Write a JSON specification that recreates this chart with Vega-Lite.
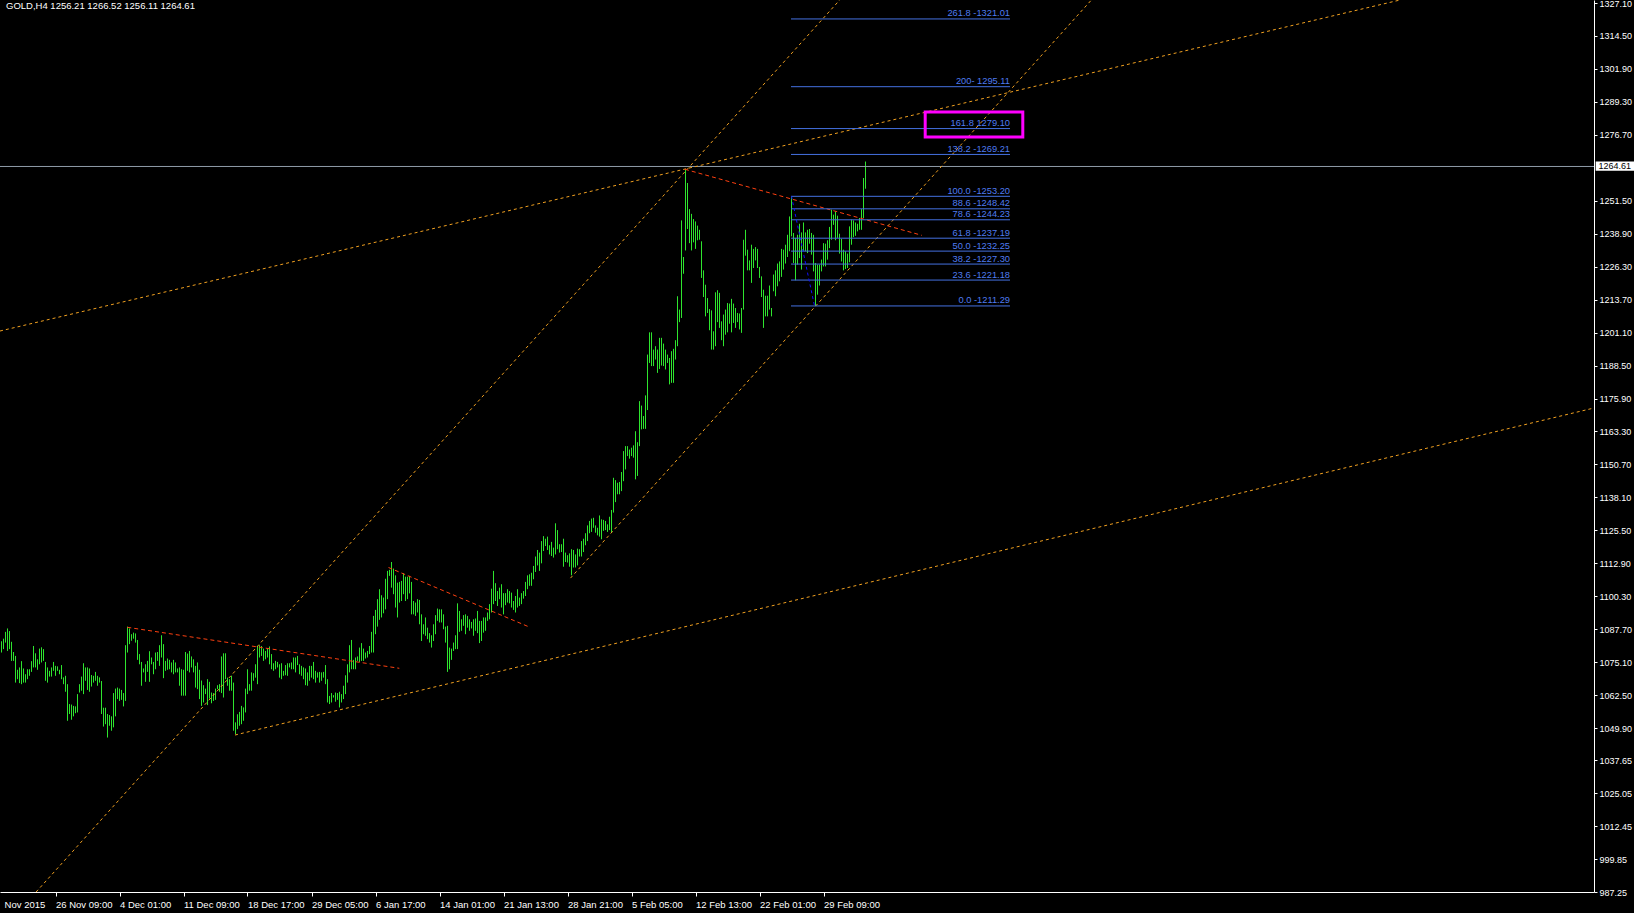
{
"$schema":"https://vega.github.io/schema/vega-lite/v6.json",
"width":1594,"height":892,
"autosize":{"type":"none"},
"padding":{"left":0,"top":0,"right":40,"bottom":21},
"background":"#000000",
"config":{"view":{"stroke":null}},
"datasets":{
"bars":[
{"i":0,"h":1083.1,"l":1078.8},{"i":1,"h":1084.1,"l":1080.1},{"i":2,"h":1086.7,"l":1082.6},{"i":3,"h":1088.0,"l":1079.4},{"i":4,"h":1087.0,"l":1080.1},{"i":5,"h":1082.9,"l":1075.6},{"i":6,"h":1079.0,"l":1075.6},{"i":7,"h":1077.5,"l":1067.3},{"i":8,"h":1072.2,"l":1068.6},{"i":9,"h":1073.1,"l":1067.1},
{"i":10,"h":1075.5,"l":1066.7},{"i":11,"h":1072.7,"l":1067.3},{"i":12,"h":1070.5,"l":1067.3},{"i":13,"h":1072.4,"l":1068.6},{"i":14,"h":1072.4,"l":1069.9},{"i":15,"h":1075.5,"l":1071.4},{"i":16,"h":1081.3,"l":1073.1},{"i":17,"h":1078.5,"l":1073.1},{"i":18,"h":1076.2,"l":1072.2},{"i":19,"h":1080.3,"l":1074.3},
{"i":20,"h":1080.8,"l":1075.0},{"i":21,"h":1080.1,"l":1075.6},{"i":22,"h":1075.2,"l":1068.0},{"i":23,"h":1073.1,"l":1067.3},{"i":24,"h":1071.8,"l":1069.6},{"i":25,"h":1073.1,"l":1069.6},{"i":26,"h":1075.2,"l":1071.8},{"i":27,"h":1073.7,"l":1069.9},{"i":28,"h":1073.5,"l":1071.8},{"i":29,"h":1072.2,"l":1070.5},
{"i":30,"h":1074.0,"l":1068.6},{"i":31,"h":1069.3,"l":1066.7},{"i":32,"h":1069.9,"l":1063.8},{"i":33,"h":1066.7,"l":1052.7},{"i":34,"h":1059.1,"l":1055.3},{"i":35,"h":1058.9,"l":1053.1},{"i":36,"h":1058.4,"l":1054.4},{"i":37,"h":1058.2,"l":1055.6},{"i":38,"h":1062.9,"l":1055.9},{"i":39,"h":1066.7,"l":1063.5},
{"i":40,"h":1069.6,"l":1064.2},{"i":41,"h":1074.7,"l":1062.9},{"i":42,"h":1073.1,"l":1068.0},{"i":43,"h":1073.1,"l":1064.5},{"i":44,"h":1072.7,"l":1063.8},{"i":45,"h":1070.2,"l":1065.8},{"i":46,"h":1069.9,"l":1067.3},{"i":47,"h":1071.4,"l":1068.0},{"i":48,"h":1069.9,"l":1066.1},{"i":49,"h":1069.3,"l":1067.3},
{"i":50,"h":1067.9,"l":1055.3},{"i":51,"h":1057.7,"l":1050.5},{"i":52,"h":1057.7,"l":1051.4},{"i":53,"h":1055.3,"l":1046.3},{"i":54,"h":1054.9,"l":1050.8},{"i":55,"h":1054.4,"l":1048.9},{"i":56,"h":1063.3,"l":1050.2},{"i":57,"h":1065.0,"l":1054.4},{"i":58,"h":1065.4,"l":1061.0},{"i":59,"h":1065.0,"l":1060.3},
{"i":60,"h":1064.5,"l":1060.7},{"i":61,"h":1063.3,"l":1058.2},{"i":62,"h":1081.6,"l":1060.3},{"i":63,"h":1088.7,"l":1078.8},{"i":64,"h":1088.0,"l":1082.0},{"i":65,"h":1085.8,"l":1083.3},{"i":66,"h":1086.4,"l":1084.1},{"i":67,"h":1086.1,"l":1082.6},{"i":68,"h":1083.6,"l":1076.0},{"i":69,"h":1078.2,"l":1074.3},
{"i":70,"h":1075.2,"l":1066.1},{"i":71,"h":1072.7,"l":1071.2},{"i":72,"h":1074.3,"l":1067.6},{"i":73,"h":1075.6,"l":1071.4},{"i":74,"h":1079.3,"l":1067.6},{"i":75,"h":1076.9,"l":1074.3},{"i":76,"h":1075.2,"l":1070.5},{"i":77,"h":1078.8,"l":1072.4},{"i":78,"h":1079.0,"l":1075.6},{"i":79,"h":1081.6,"l":1073.7},
{"i":80,"h":1085.4,"l":1076.9},{"i":81,"h":1082.0,"l":1069.0},{"i":82,"h":1075.6,"l":1071.8},{"i":83,"h":1076.5,"l":1072.2},{"i":84,"h":1076.0,"l":1072.4},{"i":85,"h":1075.0,"l":1071.2},{"i":86,"h":1076.0,"l":1070.5},{"i":87,"h":1075.0,"l":1071.2},{"i":88,"h":1072.7,"l":1071.2},{"i":89,"h":1073.1,"l":1066.1},
{"i":90,"h":1072.4,"l":1062.3},{"i":91,"h":1072.2,"l":1062.3},{"i":92,"h":1079.0,"l":1062.3},{"i":93,"h":1078.4,"l":1071.8},{"i":94,"h":1079.4,"l":1071.2},{"i":95,"h":1077.3,"l":1073.1},{"i":96,"h":1076.2,"l":1071.2},{"i":97,"h":1073.7,"l":1065.4},{"i":98,"h":1075.0,"l":1064.8},{"i":99,"h":1072.2,"l":1061.0},
{"i":100,"h":1068.1,"l":1058.4},{"i":101,"h":1066.3,"l":1059.7},{"i":102,"h":1065.0,"l":1062.9},{"i":103,"h":1068.6,"l":1058.7},{"i":104,"h":1067.6,"l":1061.2},{"i":105,"h":1063.5,"l":1059.4},{"i":106,"h":1063.3,"l":1060.3},{"i":107,"h":1065.0,"l":1060.7},{"i":108,"h":1066.3,"l":1064.8},{"i":109,"h":1066.7,"l":1063.8},
{"i":110,"h":1077.3,"l":1063.3},{"i":111,"h":1078.5,"l":1061.6},{"i":112,"h":1078.5,"l":1068.6},{"i":113,"h":1069.2,"l":1066.1},{"i":114,"h":1068.6,"l":1064.2},{"i":115,"h":1069.9,"l":1064.2},{"i":116,"h":1067.3,"l":1048.9},{"i":117,"h":1052.1,"l":1047.6},{"i":118,"h":1055.2,"l":1049.5},{"i":119,"h":1056.1,"l":1050.8},
{"i":120,"h":1058.4,"l":1051.4},{"i":121,"h":1057.8,"l":1052.7},{"i":122,"h":1065.0,"l":1055.9},{"i":123,"h":1072.4,"l":1062.9},{"i":124,"h":1066.7,"l":1064.2},{"i":125,"h":1071.2,"l":1064.2},{"i":126,"h":1070.9,"l":1068.0},{"i":127,"h":1074.3,"l":1069.2},{"i":128,"h":1081.3,"l":1066.7},{"i":129,"h":1081.6,"l":1076.9},
{"i":130,"h":1081.3,"l":1077.5},{"i":131,"h":1080.3,"l":1075.6},{"i":132,"h":1079.4,"l":1076.2},{"i":133,"h":1080.3,"l":1076.9},{"i":134,"h":1081.1,"l":1074.3},{"i":135,"h":1078.2,"l":1072.4},{"i":136,"h":1074.7,"l":1071.8},{"i":137,"h":1075.6,"l":1072.4},{"i":138,"h":1075.2,"l":1073.1},{"i":139,"h":1074.3,"l":1069.2},
{"i":140,"h":1074.7,"l":1068.6},{"i":141,"h":1071.8,"l":1069.9},{"i":142,"h":1074.0,"l":1070.1},{"i":143,"h":1074.7,"l":1069.9},{"i":144,"h":1074.7,"l":1073.1},{"i":145,"h":1075.0,"l":1072.4},{"i":146,"h":1076.9,"l":1072.4},{"i":147,"h":1076.9,"l":1071.2},{"i":148,"h":1077.5,"l":1074.0},{"i":149,"h":1074.3,"l":1070.5},
{"i":150,"h":1073.7,"l":1069.9},{"i":151,"h":1073.1,"l":1068.6},{"i":152,"h":1072.7,"l":1066.3},{"i":153,"h":1071.2,"l":1066.1},{"i":154,"h":1073.7,"l":1068.0},{"i":155,"h":1073.7,"l":1069.2},{"i":156,"h":1075.2,"l":1068.6},{"i":157,"h":1071.8,"l":1067.3},{"i":158,"h":1071.2,"l":1069.2},{"i":159,"h":1071.4,"l":1067.3},
{"i":160,"h":1071.2,"l":1068.0},{"i":161,"h":1071.4,"l":1069.2},{"i":162,"h":1074.0,"l":1066.7},{"i":163,"h":1068.6,"l":1059.7},{"i":164,"h":1062.2,"l":1059.1},{"i":165,"h":1063.3,"l":1059.7},{"i":166,"h":1062.5,"l":1061.6},{"i":167,"h":1063.5,"l":1060.0},{"i":168,"h":1063.3,"l":1060.7},{"i":169,"h":1063.8,"l":1057.8},
{"i":170,"h":1062.9,"l":1059.7},{"i":171,"h":1066.1,"l":1061.0},{"i":172,"h":1070.1,"l":1062.9},{"i":173,"h":1074.3,"l":1067.3},{"i":174,"h":1081.6,"l":1071.2},{"i":175,"h":1083.6,"l":1072.4},{"i":176,"h":1076.0,"l":1072.4},{"i":177,"h":1076.9,"l":1072.4},{"i":178,"h":1077.3,"l":1075.6},{"i":179,"h":1080.7,"l":1075.2},
{"i":180,"h":1082.4,"l":1075.6},{"i":181,"h":1080.3,"l":1075.6},{"i":182,"h":1078.8,"l":1076.5},{"i":183,"h":1079.4,"l":1076.9},{"i":184,"h":1081.3,"l":1078.2},{"i":185,"h":1086.7,"l":1078.8},{"i":186,"h":1092.8,"l":1078.8},{"i":187,"h":1095.1,"l":1085.8},{"i":188,"h":1099.2,"l":1088.7},{"i":189,"h":1103.0,"l":1091.3},
{"i":190,"h":1100.7,"l":1092.2},{"i":191,"h":1099.8,"l":1093.8},{"i":192,"h":1107.0,"l":1095.3},{"i":193,"h":1110.0,"l":1099.2},{"i":194,"h":1110.4,"l":1108.1},{"i":195,"h":1113.4,"l":1103.6},{"i":196,"h":1110.9,"l":1101.1},{"i":197,"h":1108.3,"l":1096.0},{"i":198,"h":1105.5,"l":1092.2},{"i":199,"h":1105.8,"l":1097.9},
{"i":200,"h":1106.2,"l":1098.5},{"i":201,"h":1109.1,"l":1101.1},{"i":202,"h":1107.8,"l":1098.5},{"i":203,"h":1107.8,"l":1099.2},{"i":204,"h":1108.1,"l":1101.4},{"i":205,"h":1105.8,"l":1093.4},{"i":206,"h":1098.5,"l":1093.4},{"i":207,"h":1097.9,"l":1092.8},{"i":208,"h":1099.2,"l":1094.1},{"i":209,"h":1098.9,"l":1089.6},
{"i":210,"h":1093.4,"l":1083.2},{"i":211,"h":1089.6,"l":1085.8},{"i":212,"h":1092.2,"l":1085.2},{"i":213,"h":1088.3,"l":1083.9},{"i":214,"h":1086.2,"l":1082.6},{"i":215,"h":1085.4,"l":1080.7},{"i":216,"h":1089.6,"l":1083.2},{"i":217,"h":1093.1,"l":1085.8},{"i":218,"h":1095.6,"l":1090.9},{"i":219,"h":1095.3,"l":1090.3},
{"i":220,"h":1095.3,"l":1090.3},{"i":221,"h":1093.4,"l":1087.7},{"i":222,"h":1088.7,"l":1082.6},{"i":223,"h":1089.0,"l":1071.4},{"i":224,"h":1080.7,"l":1072.4},{"i":225,"h":1080.3,"l":1076.0},{"i":226,"h":1082.6,"l":1079.4},{"i":227,"h":1085.4,"l":1080.1},{"i":228,"h":1097.6,"l":1080.1},{"i":229,"h":1094.7,"l":1086.7},
{"i":230,"h":1091.5,"l":1087.1},{"i":231,"h":1093.1,"l":1089.0},{"i":232,"h":1093.4,"l":1085.8},{"i":233,"h":1092.8,"l":1088.3},{"i":234,"h":1091.5,"l":1087.1},{"i":235,"h":1090.5,"l":1088.0},{"i":236,"h":1091.5,"l":1085.2},{"i":237,"h":1091.8,"l":1087.1},{"i":238,"h":1094.7,"l":1086.2},{"i":239,"h":1090.9,"l":1082.4},
{"i":240,"h":1090.9,"l":1083.2},{"i":241,"h":1092.2,"l":1086.4},{"i":242,"h":1092.2,"l":1087.1},{"i":243,"h":1094.1,"l":1090.9},{"i":244,"h":1097.3,"l":1091.5},{"i":245,"h":1103.2,"l":1094.1},{"i":246,"h":1110.0,"l":1097.3},{"i":247,"h":1105.3,"l":1098.5},{"i":248,"h":1102.3,"l":1096.6},{"i":249,"h":1103.6,"l":1099.2},
{"i":250,"h":1104.9,"l":1096.0},{"i":251,"h":1101.5,"l":1093.4},{"i":252,"h":1101.5,"l":1096.9},{"i":253,"h":1103.0,"l":1097.9},{"i":254,"h":1102.3,"l":1097.6},{"i":255,"h":1101.7,"l":1096.0},{"i":256,"h":1098.5,"l":1095.1},{"i":257,"h":1100.4,"l":1094.1},{"i":258,"h":1103.0,"l":1096.0},{"i":259,"h":1099.8,"l":1096.6},
{"i":260,"h":1101.5,"l":1097.3},{"i":261,"h":1102.3,"l":1099.4},{"i":262,"h":1105.8,"l":1100.4},{"i":263,"h":1108.3,"l":1103.0},{"i":264,"h":1108.7,"l":1104.3},{"i":265,"h":1109.3,"l":1104.3},{"i":266,"h":1111.9,"l":1106.8},{"i":267,"h":1115.5,"l":1109.6},{"i":268,"h":1118.0,"l":1112.1},{"i":269,"h":1117.0,"l":1110.0},
{"i":270,"h":1121.4,"l":1112.9},{"i":271,"h":1123.3,"l":1117.6},{"i":272,"h":1122.3,"l":1119.5},{"i":273,"h":1123.1,"l":1118.0},{"i":274,"h":1119.8,"l":1116.3},{"i":275,"h":1121.1,"l":1115.7},{"i":276,"h":1118.9,"l":1115.1},{"i":277,"h":1128.2,"l":1116.3},{"i":278,"h":1125.6,"l":1118.3},{"i":279,"h":1120.2,"l":1117.0},
{"i":280,"h":1120.2,"l":1117.2},{"i":281,"h":1122.3,"l":1111.6},{"i":282,"h":1117.0,"l":1113.4},{"i":283,"h":1116.0,"l":1113.2},{"i":284,"h":1116.7,"l":1111.6},{"i":285,"h":1118.3,"l":1108.3},{"i":286,"h":1118.0,"l":1111.3},{"i":287,"h":1116.3,"l":1111.3},{"i":288,"h":1118.5,"l":1112.1},{"i":289,"h":1118.3,"l":1115.5},
{"i":290,"h":1121.4,"l":1115.5},{"i":291,"h":1122.3,"l":1117.2},{"i":292,"h":1124.4,"l":1119.8},{"i":293,"h":1127.4,"l":1121.4},{"i":294,"h":1129.1,"l":1124.4},{"i":295,"h":1130.0,"l":1124.9},{"i":296,"h":1130.3,"l":1126.5},{"i":297,"h":1127.4,"l":1124.6},{"i":298,"h":1126.5,"l":1123.6},{"i":299,"h":1131.2,"l":1123.1},
{"i":300,"h":1129.7,"l":1122.1},{"i":301,"h":1129.5,"l":1125.3},{"i":302,"h":1129.1,"l":1125.6},{"i":303,"h":1127.8,"l":1124.9},{"i":304,"h":1130.7,"l":1125.6},{"i":305,"h":1133.3,"l":1124.6},{"i":306,"h":1145.6,"l":1132.3},{"i":307,"h":1144.7,"l":1136.3},{"i":308,"h":1143.7,"l":1139.3},{"i":309,"h":1144.0,"l":1139.3},
{"i":310,"h":1147.8,"l":1140.5},{"i":311,"h":1155.8,"l":1144.3},{"i":312,"h":1157.7,"l":1148.8},{"i":313,"h":1157.7,"l":1153.9},{"i":314,"h":1156.4,"l":1152.9},{"i":315,"h":1157.1,"l":1153.9},{"i":316,"h":1158.0,"l":1153.3},{"i":317,"h":1163.4,"l":1145.0},{"i":318,"h":1159.2,"l":1146.3},{"i":319,"h":1174.9,"l":1157.7},
{"i":320,"h":1173.2,"l":1164.1},{"i":321,"h":1169.2,"l":1164.3},{"i":322,"h":1177.1,"l":1164.3},{"i":323,"h":1192.7,"l":1171.5},{"i":324,"h":1201.2,"l":1189.5},{"i":325,"h":1201.2,"l":1188.3},{"i":326,"h":1194.6,"l":1188.3},{"i":327,"h":1195.9,"l":1190.8},{"i":328,"h":1194.6,"l":1185.7},{"i":329,"h":1199.1,"l":1187.2},
{"i":330,"h":1199.1,"l":1188.5},{"i":331,"h":1196.9,"l":1188.3},{"i":332,"h":1194.6,"l":1187.0},{"i":333,"h":1192.7,"l":1189.5},{"i":334,"h":1191.4,"l":1181.3},{"i":335,"h":1194.0,"l":1181.9},{"i":336,"h":1194.9,"l":1181.9},{"i":337,"h":1198.2,"l":1190.8},{"i":338,"h":1215.0,"l":1195.9},{"i":339,"h":1209.9,"l":1205.1},
{"i":340,"h":1244.0,"l":1206.7},{"i":341,"h":1230.0,"l":1223.6},{"i":342,"h":1263.3,"l":1232.5},{"i":343,"h":1258.3,"l":1240.7},{"i":344,"h":1248.3,"l":1235.3},{"i":345,"h":1246.5,"l":1232.5},{"i":346,"h":1244.5,"l":1235.6},{"i":347,"h":1243.6,"l":1233.1},{"i":348,"h":1242.0,"l":1236.4},{"i":349,"h":1240.4,"l":1236.6},
{"i":350,"h":1236.0,"l":1222.0},{"i":351,"h":1224.9,"l":1214.7},{"i":352,"h":1219.4,"l":1207.3},{"i":353,"h":1214.3,"l":1208.6},{"i":354,"h":1210.1,"l":1202.0},{"i":355,"h":1209.6,"l":1194.6},{"i":356,"h":1201.6,"l":1194.6},{"i":357,"h":1216.5,"l":1195.9},{"i":358,"h":1217.3,"l":1205.1},{"i":359,"h":1216.3,"l":1202.9},
{"i":360,"h":1205.4,"l":1198.2},{"i":361,"h":1208.0,"l":1195.9},{"i":362,"h":1209.9,"l":1200.3},{"i":363,"h":1212.4,"l":1201.2},{"i":364,"h":1212.2,"l":1204.5},{"i":365,"h":1214.0,"l":1201.2},{"i":366,"h":1212.2,"l":1204.8},{"i":367,"h":1210.5,"l":1202.9},{"i":368,"h":1208.6,"l":1205.1},{"i":369,"h":1208.4,"l":1202.3},
{"i":370,"h":1210.5,"l":1201.0},{"i":371,"h":1236.6,"l":1209.9},{"i":372,"h":1240.4,"l":1230.5},{"i":373,"h":1232.8,"l":1224.9},{"i":374,"h":1228.7,"l":1224.9},{"i":375,"h":1234.7,"l":1220.1},{"i":376,"h":1233.1,"l":1225.8},{"i":377,"h":1233.8,"l":1228.7},{"i":378,"h":1233.1,"l":1225.8},{"i":379,"h":1226.2,"l":1222.0},
{"i":380,"h":1222.6,"l":1214.7},{"i":381,"h":1217.5,"l":1202.9},{"i":382,"h":1215.2,"l":1207.3},{"i":383,"h":1215.2,"l":1207.3},{"i":384,"h":1219.1,"l":1209.9},{"i":385,"h":1210.5,"l":1207.3},{"i":386,"h":1223.3,"l":1216.9},{"i":387,"h":1224.9,"l":1215.0},{"i":388,"h":1227.5,"l":1218.8},{"i":389,"h":1228.3,"l":1220.7},
{"i":390,"h":1233.1,"l":1222.4},{"i":391,"h":1232.8,"l":1225.2},{"i":392,"h":1234.7,"l":1227.5},{"i":393,"h":1238.5,"l":1230.0},{"i":394,"h":1245.5,"l":1232.2},{"i":395,"h":1253.2,"l":1237.9},{"i":396,"h":1239.2,"l":1227.7},{"i":397,"h":1237.3,"l":1221.1},{"i":398,"h":1238.5,"l":1227.1},{"i":399,"h":1242.7,"l":1229.6},
{"i":400,"h":1239.4,"l":1225.2},{"i":401,"h":1243.2,"l":1232.2},{"i":402,"h":1239.4,"l":1232.2},{"i":403,"h":1240.4,"l":1231.5},{"i":404,"h":1240.7,"l":1235.1},{"i":405,"h":1239.2,"l":1230.9},{"i":406,"h":1238.5,"l":1224.5},{"i":407,"h":1227.7,"l":1211.3},{"i":408,"h":1227.1,"l":1215.6},{"i":409,"h":1227.1,"l":1219.1},
{"i":410,"h":1229.0,"l":1224.5},{"i":411,"h":1235.3,"l":1226.4},{"i":412,"h":1235.1,"l":1226.4},{"i":413,"h":1236.4,"l":1229.0},{"i":414,"h":1241.5,"l":1233.4},{"i":415,"h":1248.1,"l":1236.6},{"i":416,"h":1246.2,"l":1242.3},{"i":417,"h":1247.4,"l":1236.4},{"i":418,"h":1245.8,"l":1237.3},{"i":419,"h":1238.9,"l":1231.3},
{"i":420,"h":1236.9,"l":1228.3},{"i":421,"h":1232.8,"l":1224.9},{"i":422,"h":1232.2,"l":1225.4},{"i":423,"h":1231.3,"l":1225.8},{"i":424,"h":1241.7,"l":1228.0},{"i":425,"h":1244.3,"l":1234.7},{"i":426,"h":1244.0,"l":1237.6},{"i":427,"h":1243.2,"l":1238.1},{"i":428,"h":1242.7,"l":1239.8},{"i":429,"h":1244.9,"l":1240.4},
{"i":430,"h":1248.3,"l":1240.4},{"i":431,"h":1260.2,"l":1244.9},{"i":432,"h":1266.5,"l":1256.1}
],
"trend":[
{"line":"A","i":17.3,"p":987.25},{"line":"A","i":419.1,"p":1328.25},
{"line":"B","i":284.5,"p":1107.25},{"line":"B","i":544.95,"p":1328.25},
{"line":"C","i":-0.75,"p":1201.71},{"line":"C","i":699.25,"p":1328.25},
{"line":"D","i":116.75,"p":1047.26},{"line":"D","i":796.25,"p":1172.28}
],
"red":[
{"line":"a","i":62.9,"p":1088.44},{"line":"a","i":198.9,"p":1072.77},
{"line":"b","i":193.5,"p":1111.3},{"line":"b","i":264.25,"p":1088.44},
{"line":"c","i":341.75,"p":1263.53},{"line":"c","i":460.1,"p":1238.3}
],
"fib":[
{"p":1321.01,"label":"261.8 -1321.01"},{"p":1295.11,"label":"200- 1295.11"},{"p":1279.10,"label":"161.8 1279.10"},{"p":1269.21,"label":"138.2  -1269.21"},
{"p":1253.20,"label":"100.0 -1253.20"},{"p":1248.42,"label":"88.6 -1248.42"},{"p":1244.23,"label":"78.6 -1244.23"},{"p":1237.19,"label":"61.8 -1237.19"},
{"p":1232.25,"label":"50.0 -1232.25"},{"p":1227.30,"label":"38.2 -1227.30"},{"p":1221.18,"label":"23.6 -1221.18"},{"p":1211.29,"label":"0.0 -1211.29"}
],
"fibdiag":[{"i":395,"p":1253.2},{"i":406.5,"p":1211.29}],
"one":[{}]
},
"layer":[
{"data":{"name":"bars"},
 "mark":{"type":"rule","color":"#2ee52e","strokeWidth":1},
 "encoding":{
  "x":{"field":"i","type":"quantitative","scale":{"domain":[-0.75,796.25],"nice":false,"zero":false},
   "axis":{"orient":"bottom","values":[1.3,27,59,91,123,155,187,219,251,283,315,347,379,411],"tickCount":40,
    "labelExpr":"datum.value < 5 ? 'Nov 2015' : ['26 Nov 09:00','4 Dec 01:00','11 Dec 09:00','18 Dec 17:00','29 Dec 05:00','6 Jan 17:00','14 Jan 01:00','21 Jan 13:00','28 Jan 21:00','5 Feb 05:00','12 Feb 13:00','22 Feb 01:00','29 Feb 09:00'][round((datum.value-27)/32)]",
    "labelAlign":"left","labelBaseline":"top","labelPadding":3,"tickSize":4,
    "tickColor":{"condition":{"test":"datum.value < 5","value":"transparent"},"value":"#ffffff"},
    "domainColor":"#ffffff","labelColor":"#ffffff","labelFont":"Liberation Sans","labelFontSize":9.5,
    "labelFlush":false,"labelOverlap":false,"labelBound":false,"grid":false,"title":null}},
  "y":{"field":"l","type":"quantitative","scale":{"domain":[987.25,1328.25],"nice":false,"zero":false},
   "axis":{"orient":"right","values":[987.25,999.85,1012.45,1025.05,1037.65,1049.90,1062.50,1075.10,1087.70,1100.30,1112.90,1125.50,1138.10,1150.70,1163.30,1175.90,1188.50,1201.10,1213.70,1226.30,1238.90,1251.50,1276.70,1289.30,1301.90,1314.50,1327.10],"tickCount":60,
    "format":".2f","tickSize":3,"labelPadding":2,"tickColor":"#ffffff","domainColor":"#ffffff","labelColor":"#ffffff",
    "labelFont":"Liberation Sans","labelFontSize":9,"labelFlush":false,"labelOverlap":false,"labelBound":false,"grid":false,"title":null}},
  "y2":{"field":"h"}
 }},
{"data":{"name":"one"},
 "mark":{"type":"rule","color":"#8f9ca8","strokeWidth":1},
 "encoding":{"y":{"datum":1264.61,"type":"quantitative"}}},
{"data":{"name":"trend"},
 "mark":{"type":"line","color":"#f0a020","strokeWidth":1,"strokeDash":[3,3],"clip":true},
 "encoding":{"x":{"field":"i","type":"quantitative"},"y":{"field":"p","type":"quantitative"},"detail":{"field":"line"}}},
{"data":{"name":"red"},
 "mark":{"type":"line","color":"#ff4010","strokeWidth":1,"strokeDash":[4,3],"clip":true},
 "encoding":{"x":{"field":"i","type":"quantitative"},"y":{"field":"p","type":"quantitative"},"detail":{"field":"line"}}},
{"data":{"name":"fib"},
 "mark":{"type":"rule","color":"#4470e0","strokeWidth":1},
 "encoding":{"x":{"datum":394.75,"type":"quantitative"},"x2":{"datum":504.25},"y":{"field":"p","type":"quantitative"}}},
{"data":{"name":"fib"},
 "mark":{"type":"text","color":"#4f7cf0","align":"right","baseline":"alphabetic","dy":-2.5,"font":"Liberation Sans","fontSize":9.3},
 "encoding":{"x":{"datum":504.25,"type":"quantitative"},"y":{"field":"p","type":"quantitative"},"text":{"field":"label"}}},
{"data":{"name":"fibdiag"},
 "mark":{"type":"line","color":"#1010ff","strokeWidth":1,"strokeDash":[3,3]},
 "encoding":{"x":{"field":"i","type":"quantitative"},"y":{"field":"p","type":"quantitative"}}},
{"data":{"name":"one"},
 "mark":{"type":"rect","fill":"transparent","stroke":"#ff00ff","strokeWidth":3},
 "encoding":{"x":{"datum":461.85,"type":"quantitative"},"x2":{"datum":510.65},"y":{"datum":1285.41,"type":"quantitative"},"y2":{"datum":1275.86}}},
{"data":{"name":"one"},
 "mark":{"type":"rect","fill":"#ffffff"},
 "encoding":{"x":{"datum":797.1,"type":"quantitative"},"x2":{"datum":816.5},"y":{"datum":1266.5,"type":"quantitative"},"y2":{"datum":1262.95}}},
{"data":{"name":"one"},
 "mark":{"type":"text","color":"#000000","align":"left","baseline":"middle","font":"Liberation Sans","fontSize":9},
 "encoding":{"x":{"datum":798.5,"type":"quantitative"},"y":{"datum":1264.61,"type":"quantitative"},"text":{"value":"1264.61"}}},
{"data":{"name":"one"},
 "mark":{"type":"text","color":"#ffffff","align":"left","baseline":"alphabetic","font":"Liberation Sans","fontSize":9.5},
 "encoding":{"x":{"datum":2.25,"type":"quantitative"},"y":{"datum":1325.0,"type":"quantitative"},"text":{"value":"GOLD,H4  1256.21 1266.52 1256.11 1264.61"}}}
]
}
